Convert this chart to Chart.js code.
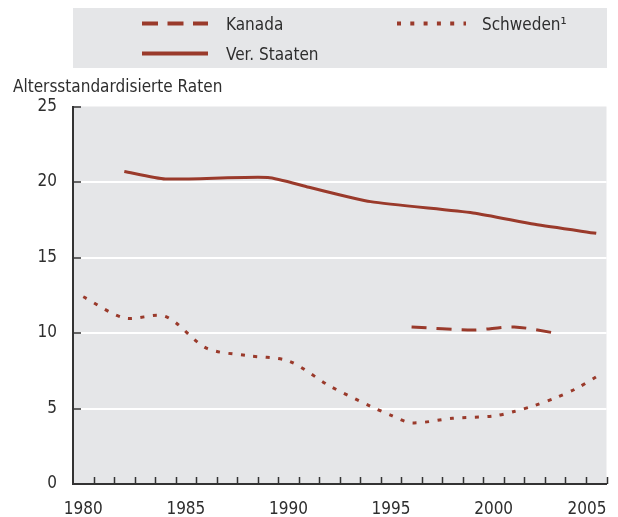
<!DOCTYPE html>
<html>
<head>
<meta charset="utf-8">
<script src="https://cdn.jsdelivr.net/npm/chart.js@4.4.0/dist/chart.umd.min.js"></script>
<style>
  body { margin: 0; background: #fff; }
  #wrap { width: 618px; height: 517px; }
</style>
</head>
<body>
<div id="wrap"><canvas id="grafico" width="618" height="517"></canvas></div>
<script>
// data (values are per calendar year)
const yearsKanada = [1996, 1999, 2001, 2003];
const valuesKanada = [10.4, 10.2, 10.4, 10.0];

const yearsSchweden = [1980, 1982, 1984, 1986, 1988, 1990, 1992, 1994, 1995, 1996, 1998, 2000, 2001, 2002, 2003, 2004, 2005];
const valuesSchweden = [12.4, 11.0, 11.1, 9.0, 8.5, 8.15, 6.5, 5.15, 4.55, 4.05, 4.35, 4.5, 4.8, 5.2, 5.7, 6.3, 7.1];

const yearsUSA = [1982, 1984, 1989, 1991, 1994, 1999, 2002, 2005];
const valuesUSA = [20.7, 20.2, 20.3, 19.65, 18.7, 17.95, 17.2, 16.6];

const xTickYears = [1980, 1985, 1990, 1995, 2000, 2005];
const yTicks = [0, 5, 10, 15, 20, 25];

const titel = 'Altersstandardisierte Raten';
const farbe = '#9a3a2b';
const textFarbe = '#2e2e2e';
const grau = '#e5e6e8';
const schrift = '"DejaVu Sans Condensed", "Liberation Sans", sans-serif';
const groesse = 17;

// points sit in the middle of each year band
function punkte(years, values) {
    return years.map((y, i) => ({ x: y + 0.5, y: values[i] }));
}

const zusatz = {
    id: 'zusatz',
    beforeDraw(chart) {
        const { ctx, chartArea: a } = chart;
        ctx.save();
        ctx.fillStyle = grau;
        ctx.fillRect(a.left, a.top, a.right - a.left, a.bottom - a.top);
        // legend box
        ctx.fillRect(73, 8, 534, 60);
        ctx.restore();
    },
    beforeDatasetsDraw(chart) {
        const { ctx, chartArea: a, scales: { x, y } } = chart;
        ctx.save();
        ctx.strokeStyle = '#333';
        ctx.lineWidth = 1.5;
        ctx.beginPath();
        for (let yr = x.min + 1; yr <= x.max; yr++) {
            const px = Math.round(x.getPixelForValue(yr)) + 0.5;
            ctx.moveTo(px, a.bottom);
            ctx.lineTo(px, a.bottom - 7);
        }
        yTicks.forEach(v => {
            if (v === 0) return;
            const py = Math.round(y.getPixelForValue(v));
            ctx.moveTo(a.left, py);
            ctx.lineTo(a.left + 8, py);
        });
        ctx.stroke();
        ctx.restore();
    },
    afterDraw(chart) {
        const { ctx, chartArea: a, scales: { x } } = chart;
        ctx.save();
        ctx.fillStyle = textFarbe;
        ctx.font = groesse + 'px ' + schrift;
        ctx.textBaseline = 'alphabetic';

        // x labels centred in the year band, last one kept inside the axis
        ctx.textAlign = 'left';
        xTickYears.forEach(yr => {
            const t = String(yr);
            const w = ctx.measureText(t).width;
            let px = x.getPixelForValue(yr + 0.5) - w / 2;
            if (px + w > a.right) px = a.right - w;
            ctx.fillText(t, px, 514);
        });

        // axis title
        ctx.fillText(titel, 13, 92);

        // legend
        const ds = chart.data.datasets;
        const plaetze = [
            { x1: 142, x2: 208, ty: 23.5, tx: 226, base: 30 },
            { x1: 397, x2: 466, ty: 23.5, tx: 482, base: 30 },
            { x1: 142, x2: 208, ty: 53.5, tx: 226, base: 60 }
        ];
        ds.forEach((d, i) => {
            const p = plaetze[i];
            ctx.beginPath();
            ctx.strokeStyle = d.borderColor;
            ctx.lineWidth = 4;
            ctx.lineCap = 'butt';
            ctx.setLineDash(d.legendDash || []);
            ctx.moveTo(p.x1, p.ty);
            ctx.lineTo(p.x2, p.ty);
            ctx.stroke();
            ctx.setLineDash([]);
            ctx.fillText(d.label, p.tx, p.base);
        });
        ctx.restore();
    }
};

new Chart(document.getElementById('grafico'), {
    type: 'line',
    data: {
        datasets: [
            {
                label: 'Kanada',
                data: punkte(yearsKanada, valuesKanada),
                borderColor: farbe,
                borderWidth: 3,
                borderDash: [15, 10],
                legendDash: [16, 9.5],
                tension: 0.3
            },
            {
                label: 'Schweden\u00B9',
                data: punkte(yearsSchweden, valuesSchweden),
                borderColor: farbe,
                borderWidth: 3,
                borderDash: [4, 8.5],
                legendDash: [4, 9.3],
                tension: 0.3
            },
            {
                label: 'Ver. Staaten',
                data: punkte(yearsUSA, valuesUSA),
                borderColor: farbe,
                borderWidth: 3,
                tension: 0.2
            }
        ]
    },
    options: {
        responsive: false,
        animation: false,
        layout: { padding: { top: 106.5, right: 11.5, left: 0, bottom: 0 } },
        elements: { point: { radius: 0 }, line: { borderCapStyle: 'butt', fill: false } },
        plugins: { legend: { display: false }, tooltip: { enabled: false } },
        scales: {
            x: {
                type: 'linear',
                min: 1980,
                max: 2006,
                afterFit: s => { s.height = 33; },
                ticks: { display: false },
                grid: { display: true, drawOnChartArea: false, drawTicks: false },
                border: { display: true, color: '#333', width: 2 }
            },
            y: {
                min: 0,
                max: 25,
                afterFit: s => { s.width = 73; },
                ticks: {
                    stepSize: 5,
                    color: textFarbe,
                    padding: 16,
                    font: { family: schrift, size: groesse }
                },
                grid: {
                    drawTicks: false,
                    lineWidth: 2,
                    color: c => (c.tick && (c.tick.value === 0 || c.tick.value === 25)) ? 'rgba(0,0,0,0)' : '#ffffff'
                },
                border: { display: true, color: '#333', width: 2 }
            }
        }
    },
    plugins: [zusatz]
});
</script>
</body>
</html>
